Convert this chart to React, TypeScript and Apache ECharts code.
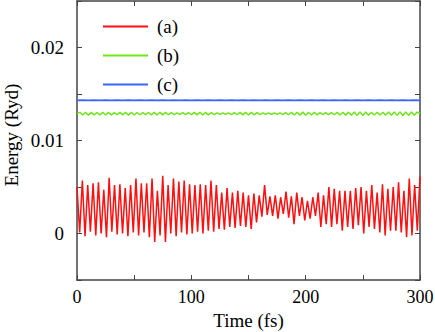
import React, { useEffect, useRef } from "react";
import * as echarts from "echarts";

// Time axis
const xTicks = [0, 50, 100, 150, 200, 250, 300];
const xLabelValues = [0, 100, 200, 300];
const yLabelValues = ["0", "0.01", "0.02"];
const seriesNames = ["(a)", "(b)", "(c)"];
const xName = "Time (fs)";
const yName = "Energy (Ryd)";

// (a) red: alternating maxima / minima, sampled every 300/128 fs
const redStep = 300 / 128;
const redPeaks = [
  0.0050, 0.0057, 0.0052, 0.0054, 0.0055, 0.0047, 0.0060, 0.0052, 0.0053, 0.0049, 0.0052, 0.0059, 0.0054, 0.0054, 0.0059, 0.0046,
  0.0062, 0.0052, 0.0059, 0.0056, 0.0057, 0.0053, 0.0052, 0.0053, 0.0052, 0.0057, 0.0052, 0.0044, 0.0049, 0.0044, 0.0046, 0.0044,
  0.0041, 0.0043, 0.0041, 0.0052, 0.0040, 0.0041, 0.0039, 0.0045, 0.0040, 0.0044, 0.0039, 0.0035, 0.0039, 0.0044, 0.0041, 0.0050, 0.0048,
  0.0046, 0.0046, 0.0046, 0.0049, 0.0050, 0.0046, 0.0052, 0.0044, 0.0053, 0.0048, 0.0050, 0.0055, 0.0046, 0.0059, 0.0052, 0.0061,
];
const redTroughs = [
  0.0001, -0.0003, 0.0002, -0.0002, 0.0000, -0.0004, 0.0002, -0.0001, 0.0000, -0.0003, 0.0001, -0.0002, 0.0001, -0.0004, -0.0009, -0.0002,
  -0.0009, 0.0000, -0.0003, 0.0001, -0.0001, 0.0000, 0.0002, 0.0000, 0.0003, 0.0002, 0.0005, 0.0004, 0.0007, 0.0006, 0.0008, 0.0007,
  0.0005, 0.0012, 0.0018, 0.0020, 0.0019, 0.0016, 0.0021, 0.0017, 0.0010, 0.0019, 0.0014, 0.0016, 0.0019, 0.0007, 0.0010, 0.0007,
  0.0010, 0.0003, 0.0007, 0.0005, 0.0009, 0.0000, 0.0007, 0.0005, 0.0001, -0.0002, 0.0003, 0.0003, 0.0001, -0.0004, -0.0002, 0.0003,
];

// (b) green, sampled every 2.5 fs
const greenStep = 2.5;
const greenValues = [
  0.01290, 0.01303, 0.01274, 0.01304, 0.01273, 0.01302, 0.01275, 0.01301, 0.01276, 0.01303,
  0.01274, 0.01302, 0.01276, 0.01300, 0.01277, 0.01302, 0.01275, 0.01303, 0.01273, 0.01304,
  0.01274, 0.01301, 0.01277, 0.01300, 0.01278, 0.01301, 0.01276, 0.01302, 0.01274, 0.01303,
  0.01275, 0.01302, 0.01277, 0.01299, 0.01279, 0.01298, 0.01280, 0.01299, 0.01278, 0.01300,
  0.01277, 0.01302, 0.01275, 0.01303, 0.01274, 0.01302, 0.01276, 0.01300, 0.01278, 0.01298,
  0.01280, 0.01297, 0.01281, 0.01298, 0.01279, 0.01300, 0.01277, 0.01302, 0.01275, 0.01303,
  0.01274, 0.01302, 0.01276, 0.01300, 0.01278, 0.01298, 0.01280, 0.01297, 0.01282, 0.01296,
  0.01281, 0.01298, 0.01279, 0.01300, 0.01277, 0.01302, 0.01275, 0.01304, 0.01273, 0.01305,
  0.01272, 0.01304, 0.01274, 0.01302, 0.01276, 0.01300, 0.01278, 0.01299, 0.01279, 0.01300,
  0.01277, 0.01302, 0.01275, 0.01304, 0.01273, 0.01305, 0.01271, 0.01306, 0.01270, 0.01307,
  0.01270, 0.01306, 0.01272, 0.01304, 0.01274, 0.01303, 0.01275, 0.01304, 0.01273, 0.01306,
  0.01271, 0.01307, 0.01270, 0.01308, 0.01269, 0.01307, 0.01270, 0.01306, 0.01272, 0.01305,
  0.01290,
];

// (c) blue, sampled every 5 fs
const blueStep = 5;
const blueValues = [
  0.01432, 0.01434, 0.01431, 0.01433, 0.01432, 0.01434, 0.01431, 0.01433, 0.01432, 0.01434,
  0.01431, 0.01433, 0.01432, 0.01434, 0.01431, 0.01433, 0.01432, 0.01434, 0.01431, 0.01433,
  0.01432, 0.01434, 0.01431, 0.01433, 0.01432, 0.01434, 0.01431, 0.01433, 0.01432, 0.01434,
  0.01431, 0.01433, 0.01432, 0.01434, 0.01431, 0.01433, 0.01432, 0.01434, 0.01431, 0.01433,
  0.01432, 0.01434, 0.01431, 0.01433, 0.01432, 0.01434, 0.01431, 0.01433, 0.01432, 0.01434,
  0.01431, 0.01433, 0.01432, 0.01434, 0.01431, 0.01433, 0.01432, 0.01434, 0.01431, 0.01433,
  0.01432,
];

const FONT = "Liberation Serif, Times New Roman, serif";
const AXIS_COLOR = "#444";

function buildRed(): number[][] {
  const pts: number[][] = [];
  for (let i = 0; i < redPeaks.length; i++) {
    pts.push([2 * i * redStep, redPeaks[i]]);
    if (i < redTroughs.length) pts.push([(2 * i + 1) * redStep, redTroughs[i]]);
  }
  return pts;
}

export default function App() {
  const ref = useRef<HTMLDivElement>(null);
  useEffect(() => {
    if (!ref.current) return;
    document.body.style.margin = "0";
    const chart = echarts.init(ref.current, undefined, { renderer: "svg" });
    const xLabel = (v: number) => (xLabelValues.includes(Math.round(v)) ? String(Math.round(v)) : "");
    const yLabel = (v: number) => {
      const k = Math.round(v * 1000);
      if (k === 0) return yLabelValues[0];
      if (k === 10) return yLabelValues[1];
      if (k === 20) return yLabelValues[2];
      return "";
    };
    const baseX = {
      type: "value" as const,
      min: xTicks[0],
      max: xTicks[xTicks.length - 1],
      interval: 50,
      splitLine: { show: false },
      axisLine: { show: true, onZero: false, lineStyle: { color: AXIS_COLOR, width: 1.5 } },
      axisTick: { show: true, inside: true, length: 5, lineStyle: { color: AXIS_COLOR, width: 1 } },
    };
    const baseY = {
      type: "value" as const,
      min: -0.005,
      max: 0.025,
      interval: 0.005,
      splitLine: { show: false },
      axisLine: { show: true, onZero: false, lineStyle: { color: AXIS_COLOR, width: 1.5 } },
      axisTick: { show: true, inside: true, length: 5, lineStyle: { color: AXIS_COLOR, width: 1 } },
    };
    chart.setOption({
      animation: false,
      backgroundColor: "#fff",
      textStyle: { fontFamily: FONT },
      grid: { left: 77, right: 15, top: 1, bottom: 52, containLabel: false, outerBoundsMode: "none" },
      legend: {
        data: seriesNames,
        orient: "vertical",
        left: 103,
        top: 17,
        padding: 0,
        icon: "rect",
        itemWidth: 45,
        itemHeight: 2,
        itemGap: 10,
        textStyle: { fontFamily: FONT, fontSize: 19, lineHeight: 14, color: "#000", padding: [0, 0, 0, 4] },
      },
      graphic: [
        {
          type: "text",
          x: 11,
          y: 135,
          rotation: Math.PI / 2,
          style: {
            text: yName,
            fontFamily: FONT,
            fontSize: 19,
            fill: "#000",
            align: "center",
            verticalAlign: "middle",
          },
        },
      ],
      xAxis: [
        {
          ...baseX,
          position: "bottom",
          name: xName,
          nameLocation: "middle",
          nameGap: 30,
          nameTextStyle: { fontFamily: FONT, fontSize: 19, color: "#000" },
          axisLabel: { show: true, margin: 8, fontFamily: FONT, fontSize: 18, color: "#000", formatter: xLabel },
        },
        { ...baseX, position: "top", axisLabel: { show: false } },
      ],
      yAxis: [
        {
          ...baseY,
          position: "left",
          axisLabel: { show: true, margin: 13, fontFamily: FONT, fontSize: 19, color: "#000", formatter: yLabel },
        },
        { ...baseY, position: "right", axisLabel: { show: false } },
      ],
      series: [
        {
          name: seriesNames[0],
          type: "line",
          data: buildRed(),
          showSymbol: false,
          symbol: "none",
          lineStyle: { color: "#ff1010", width: 1.5 },
          itemStyle: { color: "#ff1010" },
        },
        {
          name: seriesNames[1],
          type: "line",
          data: greenValues.map((v, i) => [i * greenStep, v]),
          showSymbol: false,
          symbol: "none",
          lineStyle: { color: "#6ee61a", width: 1.5 },
          itemStyle: { color: "#6ee61a" },
        },
        {
          name: seriesNames[2],
          type: "line",
          data: blueValues.map((v, i) => [i * blueStep, v]),
          showSymbol: false,
          symbol: "none",
          lineStyle: { color: "#3a64ff", width: 1.8 },
          itemStyle: { color: "#3a64ff" },
        },
      ],
    });
    return () => chart.dispose();
  }, []);
  return (
    <div style={{ position: "absolute", left: 0, top: 0, width: 435, height: 332 }}>
      <div ref={ref} style={{ width: 435, height: 332 }} />
    </div>
  );
}
